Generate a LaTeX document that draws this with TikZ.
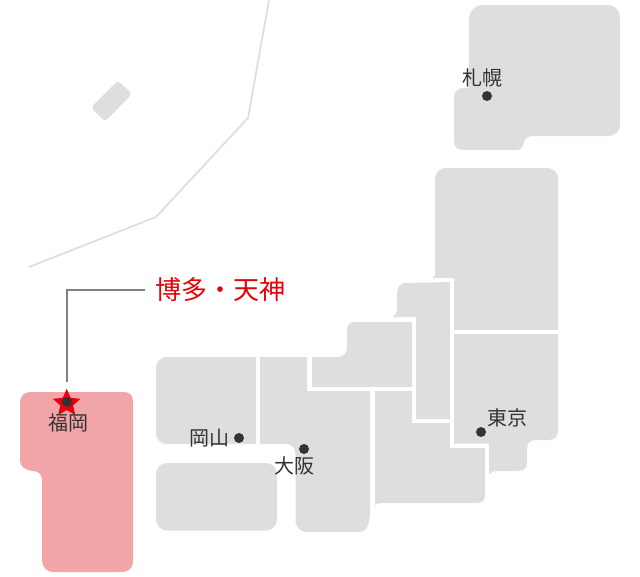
\documentclass[tikz,border=0pt]{standalone}
\usepackage{fontspec}
\setmainfont{Noto Sans CJK JP}
\usetikzlibrary{shapes.geometric}
\definecolor{landgray}{HTML}{DEDEDE}
\definecolor{landpink}{HTML}{F2A5A8}
\definecolor{markred}{HTML}{E60008}
\definecolor{inkdark}{HTML}{333333}
\definecolor{leadgray}{HTML}{808080}
\tikzset{
  land/.style={fill=landgray,draw=none},
  cityname/.style={inner sep=0pt,text=inkdark,font=\fontsize{20}{20}\selectfont},
  citydot/.style={circle,fill=inkdark,draw=none,minimum size=10pt,inner sep=0pt},
  leader/.style={draw=leadgray,line width=2pt},
  sealine/.style={draw=landgray,line width=1.8pt},
}
\begin{document}
\begin{tikzpicture}[x=1pt,y=-1pt]
\useasboundingbox (0,0) rectangle (640,576);
% sea boundary
\draw[sealine] (269,0) -- (248,118) -- (156,217) -- (29,267);
% small island
\fill[land,rounded corners=3.5pt] (118,80.5) -- (132,94) -- (105,121.5) -- (91,107.5) -- cycle;
% Hokkaido
\fill[land] (485,5) -- (606,5) .. controls (615,5) and (620,10) .. (620,19) -- (620,124)
  .. controls (620,132) and (615,136) .. (607,136) -- (534,136)
  .. controls (527,136) and (525,139) .. (524,142) .. controls (523,147) and (521,150) .. (516,150)
  -- (464,150) .. controls (457,150) and (454,147) .. (454,141) -- (454,98)
  .. controls (454,91) and (458,88) .. (464,88) -- (469,88) -- (469,21)
  .. controls (469,10) and (475,5) .. (485,5) -- cycle;
% Tohoku
\fill[land] (447,168) -- (546,168) .. controls (554,168) and (558,172) .. (558,180) -- (558,330)
  -- (454,330) -- (454,278) -- (433,278) -- (435,275) -- (435,180)
  .. controls (435,172) and (439,168) .. (447,168) -- cycle;
% Kanto
\fill[land] (454,334) -- (558,334) -- (558,430) .. controls (558,437) and (555,440) .. (548,440)
  -- (535,440) .. controls (529,440) and (527,444) .. (527,450) -- (527,462)
  .. controls (527,468) and (524,471) .. (518,471) -- (498,471) .. controls (494,471) and (492,472) .. (489,474)
  -- (489,443.5) -- (454,443.5) -- cycle;
% Hokuriku strip
\fill[land] (416,419) -- (450,419) -- (450,282) -- (406,283)
  .. controls (399,283) and (397,288) .. (397,294) -- (397,309)
  .. controls (397,313) and (395,315) .. (393,317) -- (416,317) -- cycle;
% Tokai
\fill[land] (312,387) -- (412,387) -- (412,322) -- (354,322)
  .. controls (349,322) and (347,326) .. (347,331) -- (347,347)
  .. controls (347,353) and (344,357) .. (337,357) -- (312,357) -- cycle;
% Kinki south east
\fill[land] (375,391) -- (412,391) -- (412,423) -- (450,423) -- (450,448) -- (485,448) -- (485,495)
  .. controls (485,500) and (483,503) .. (477,503) -- (381,503)
  .. controls (378,503) and (377,504) .. (375,505) -- cycle;
% Kinki
\fill[land] (260,357) -- (307,357) -- (307,391) -- (370,391) -- (370,505)
  .. controls (370,522) and (369,532) .. (358,532) -- (309,532)
  .. controls (299,532) and (295.5,527) .. (295.5,519) -- (295.5,456)
  .. controls (295.5,448) and (293,444) .. (285,444) -- (260,444) -- cycle;
% Chugoku
\fill[land] (256,357) -- (256,444) -- (168,444) .. controls (160,444) and (156,440) .. (156,432)
  -- (156,369) .. controls (156,361) and (160,357) .. (168,357) -- cycle;
% Shikoku
\fill[land,rounded corners=11pt] (156,463) rectangle (277,530.5);
% Kyushu
\fill[landpink] (31,392) -- (123,392) .. controls (130,392) and (133,395) .. (133,402) -- (133,560)
  .. controls (133,568) and (129,572) .. (121,572) -- (54,572)
  .. controls (46,572) and (42,567) .. (42,558) -- (42,480)
  .. controls (42,474) and (38,471) .. (33,471)
  .. controls (24,470) and (20,466) .. (20,460) -- (20,403)
  .. controls (20,396) and (24,392) .. (31,392) -- cycle;
% marker
\node[star,star points=5,star point ratio=2.15,fill=markred,draw=none,inner sep=0pt,minimum size=29pt] (hakatastar) at (66.7,403.3) {};
\node[citydot] (fukuokadot) at (67,402) {};
\node[inner sep=0pt,text=markred,font=\fontsize{26}{26}\selectfont] (hakata) at (220.5,290) {博多・天神};
\draw[leader,shorten <=10.5pt,shorten >=6pt] (hakata.west) -| (hakatastar.north);
% cities
\node[cityname] (fukuoka) at (68,423) {福岡};
\node[citydot] (sapporodot) at (487,96) {};
\node[cityname] (sapporo) at (482.5,78) {札幌};
\node[citydot] (okayamadot) at (239,438) {};
\node[cityname] (okayama) at (209.5,438) {岡山};
\node[citydot] (osakadot) at (304,449) {};
\node[cityname] (osaka) at (294.5,466) {大阪};
\node[citydot] (tokyodot) at (481,432) {};
\node[cityname] (tokyo) at (507,418) {東京};
\end{tikzpicture}
\end{document}
